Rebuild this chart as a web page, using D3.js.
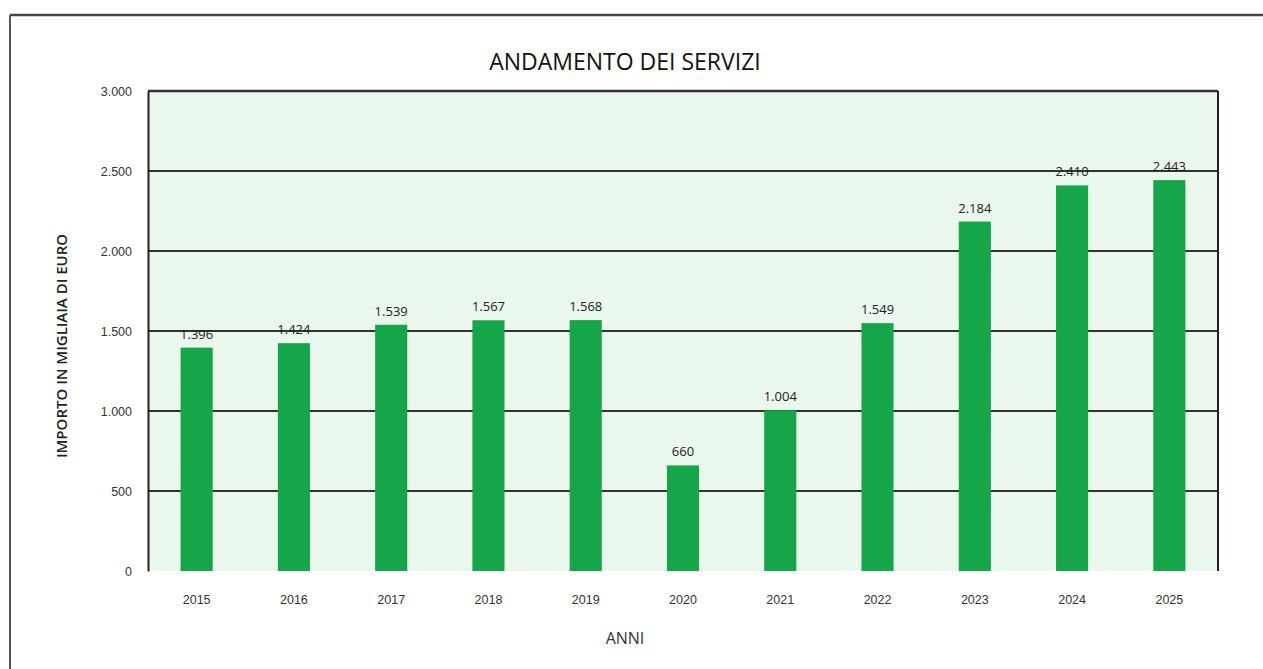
<!DOCTYPE html>
<html>
<head>
<meta charset="utf-8">
<script src="https://cdn.jsdelivr.net/npm/d3@7"></script>
<style>
  body { margin: 0; background: #fff; }
  svg { display: block; font-family: "Open Sans", "Liberation Sans", sans-serif; }
</style>
</head>
<body>
<svg width="1263" height="669"></svg>
<script>
const anni = ["2015","2016","2017","2018","2019","2020","2021","2022","2023","2024","2025"];
const importi = [1396, 1424, 1539, 1567, 1568, 660, 1004, 1549, 2184, 2410, 2443];
const yTicks = [0, 500, 1000, 1500, 2000, 2500, 3000];

const svg = d3.select("svg"),
      margin = {top: 91, right: 45, bottom: 98, left: 148},
      width = +svg.attr("width") - margin.left - margin.right,
      height = +svg.attr("height") - margin.top - margin.bottom;

const fmt = v => d3.format(",")(v).replace(/,/g, ".");

// cornice del foglio
svg.append("line").attr("x1", 10).attr("x2", 1263).attr("y1", 15).attr("y2", 15)
  .attr("stroke", "#444").attr("stroke-width", 2.5);
svg.append("line").attr("x1", 10).attr("x2", 10).attr("y1", 15).attr("y2", 669)
  .attr("stroke", "#555").attr("stroke-width", 2);

const g = svg.append("g")
  .attr("transform", `translate(${margin.left},${margin.top})`);

const x = d3.scaleBand().domain(anni).range([0, width]).paddingInner(0.67).paddingOuter(0.335);
const y = d3.scaleLinear().domain([0, 3000]).range([height, 0]);

g.append("rect").attr("width", width).attr("height", height).attr("fill", "#e9f7ec");

// griglia
g.append("g")
  .selectAll("line")
  .data(yTicks.filter(t => t > 0))
  .join("line")
  .attr("x1", 0).attr("x2", width)
  .attr("y1", d => y(d)).attr("y2", d => y(d))
  .attr("stroke", "#333").attr("stroke-width", d => d === 3000 ? 2.5 : 2);

g.append("line").attr("x1", width).attr("x2", width).attr("y1", 0).attr("y2", height)
  .attr("stroke", "#222").attr("stroke-width", 2);

// barre
g.selectAll("rect.bar")
  .data(anni)
  .join("rect")
  .attr("class", "bar")
  .attr("x", d => x(d))
  .attr("y", (d, i) => y(importi[i]))
  .attr("width", x.bandwidth())
  .attr("height", (d, i) => height - y(importi[i]))
  .attr("fill", "#16a64a");

g.selectAll("text.val")
  .data(anni)
  .join("text")
  .attr("class", "val")
  .attr("x", d => x(d) + x.bandwidth() / 2)
  .attr("y", (d, i) => y(importi[i]) - 9)
  .attr("text-anchor", "middle")
  .style("font-size", "13px")
  .attr("fill", "#222")
  .text((d, i) => fmt(importi[i]));

// asse Y
const yAxis = g.append("g")
  .call(d3.axisLeft(y).tickValues(yTicks).tickFormat(fmt).tickSize(0).tickPadding(16));
yAxis.select(".domain").attr("stroke", "#222").attr("stroke-width", 2);
yAxis.selectAll("text").style("font-size", "12.5px").attr("fill", "#333");

// asse X
const xAxis = g.append("g")
  .attr("transform", `translate(0,${height})`)
  .call(d3.axisBottom(x).tickSize(0).tickPadding(24));
xAxis.select(".domain").remove();
xAxis.selectAll("text").style("font-size", "12.5px").attr("fill", "#333");

svg.append("text")
  .attr("x", 625)
  .attr("y", 70)
  .attr("text-anchor", "middle")
  .style("font-size", "23px")
  .attr("fill", "#111")
  .text("ANDAMENTO DEI SERVIZI");

svg.append("text")
  .attr("x", 625)
  .attr("y", 644)
  .attr("text-anchor", "middle")
  .style("font-size", "16px")
  .attr("fill", "#333")
  .text("ANNI");

svg.append("text")
  .attr("transform", "rotate(-90)")
  .attr("x", -(margin.top + height / 2 + 15))
  .attr("y", 67)
  .attr("text-anchor", "middle")
  .style("font-size", "15px")
  .style("font-weight", "600")
  .attr("fill", "#222")
  .text("IMPORTO IN MIGLIAIA DI EURO");
</script>
</body>
</html>
